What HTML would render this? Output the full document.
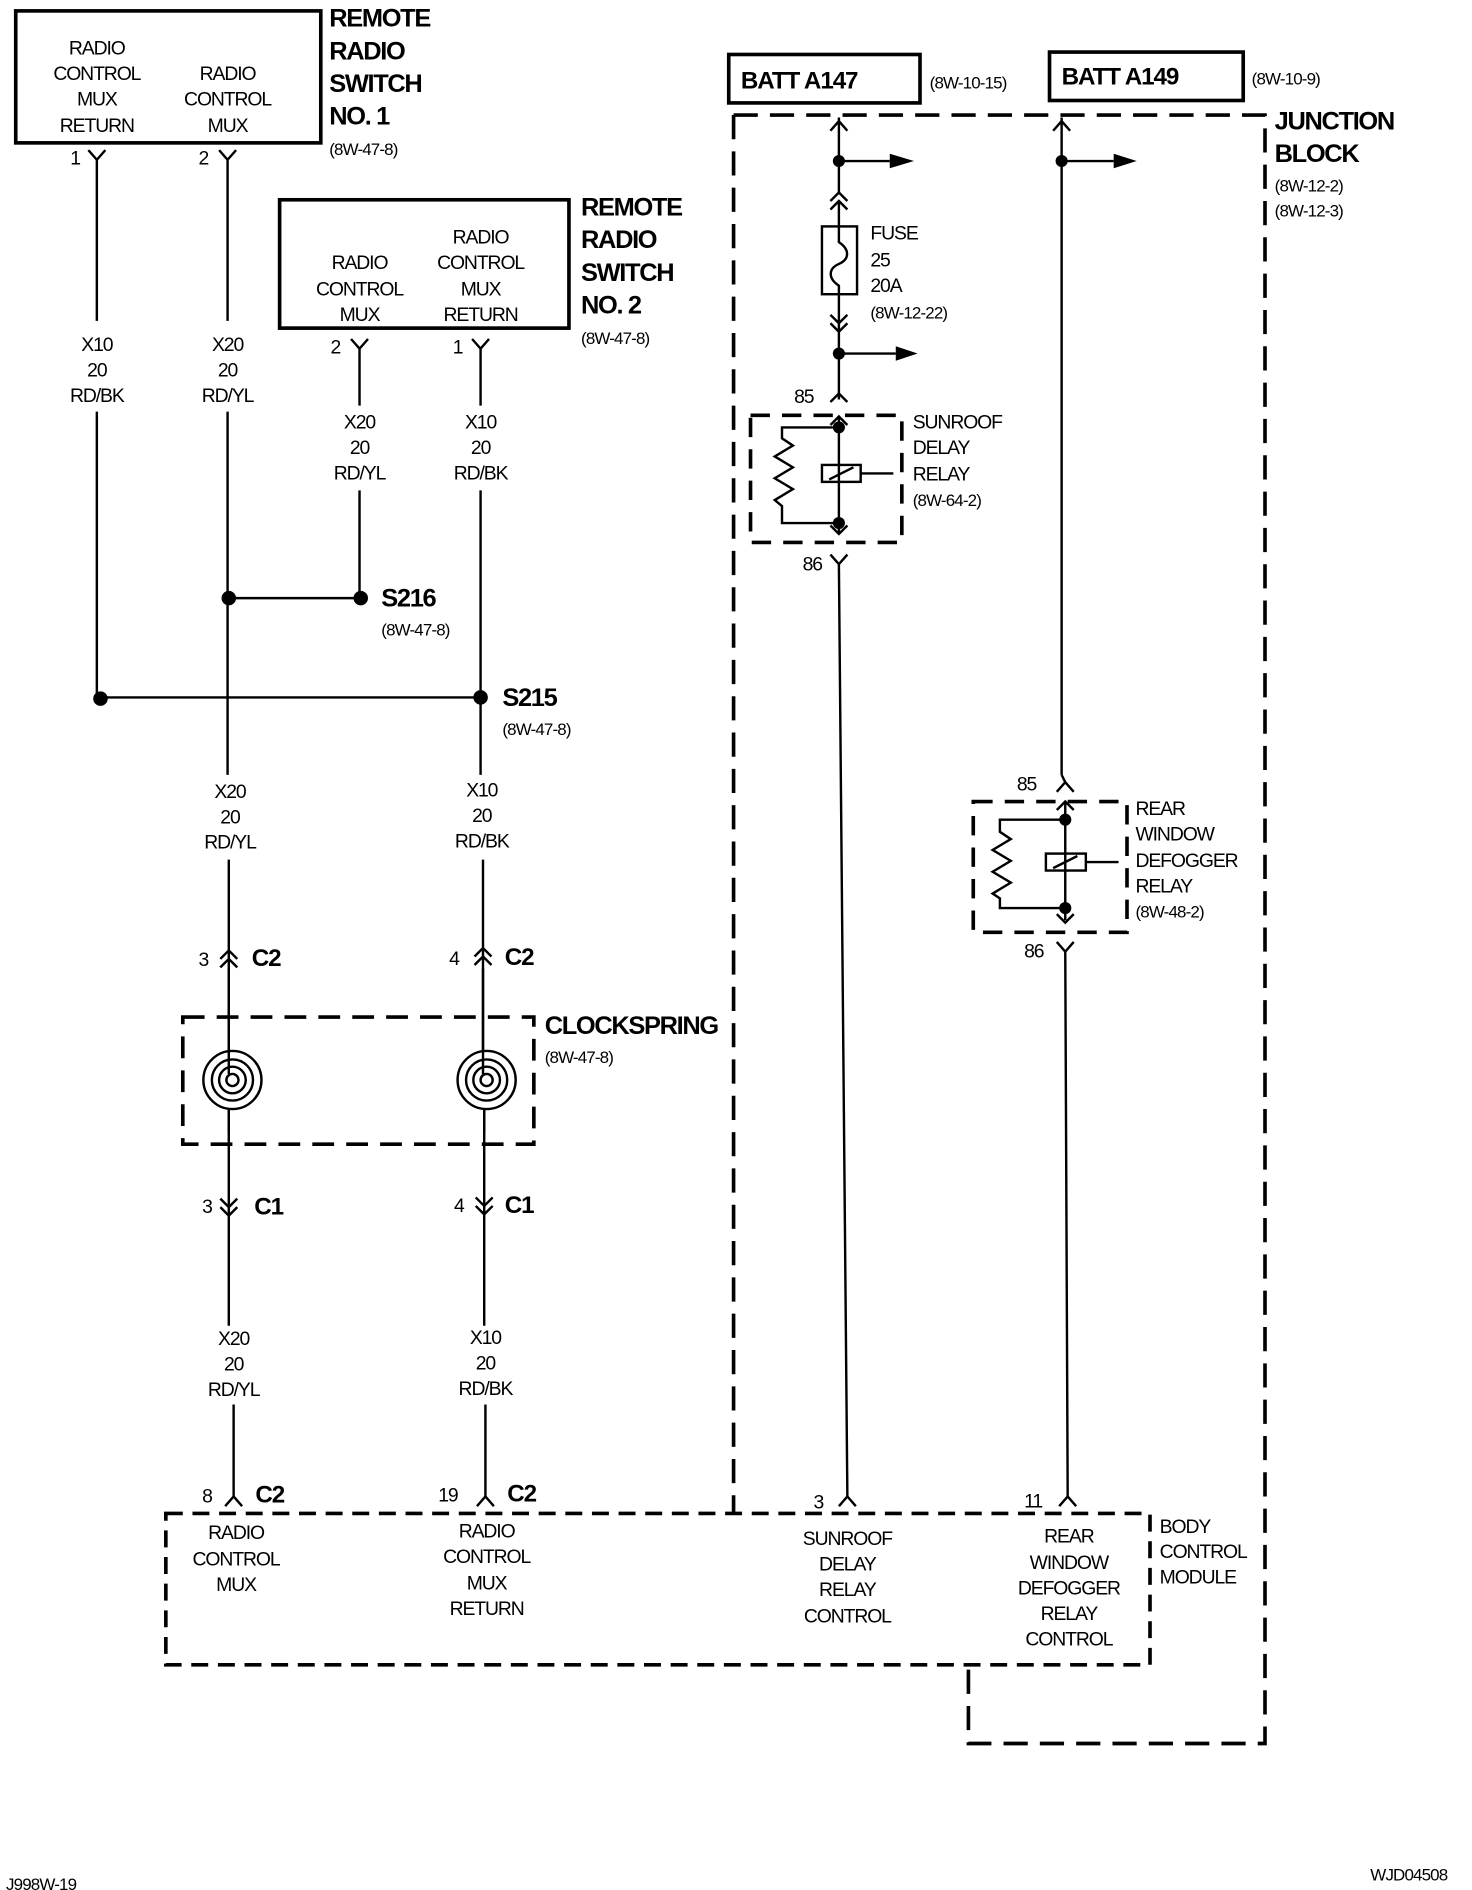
<!DOCTYPE html>
<html><head><meta charset="utf-8"><style>
html,body{margin:0;padding:0;background:#fff;}
svg{display:block;}
text{font-family:"Liberation Sans",sans-serif;fill:#000;}
.t{font-size:16px;text-anchor:middle;letter-spacing:-0.9px;}
.l{font-size:16px;letter-spacing:-0.9px;}
.s{font-size:14px;letter-spacing:-0.7px;}
.b{font-size:21px;font-weight:bold;letter-spacing:-1.1px;}
.bb{font-size:20px;font-weight:bold;letter-spacing:-0.9px;}
</style></head><body>
<svg width="1472" height="1890" viewBox="0 0 1216 1561" preserveAspectRatio="none" xmlns="http://www.w3.org/2000/svg">
<g fill="none" stroke="#000" stroke-width="2">
<rect x="13" y="9" width="252" height="109" stroke-width="3"/>
<rect x="231" y="165" width="239" height="106" stroke-width="3"/>
<rect x="602" y="45" width="158" height="40" stroke-width="3"/>
<rect x="867" y="43" width="160" height="40" stroke-width="3"/>

<path d="M73 124 L80 132 L87 124 M80 132 V265 M80 340 V577"/>
<path d="M181 124 L188 132 L195 124 M188 132 V265 M188 340 V640"/>
<path d="M290 280 L297 288 L304 280 M297 288 V335 M297 405 V494"/>
<path d="M390 280 L397 288 L404 280 M397 288 V335 M397 405 V640"/>
<path d="M189 494 H298 M83 576 H397"/>
<path d="M189 710 V892 M189 916 V1095 M399 710 V892 M400 916 V1095"/>
<path d="M182 792 L189 785 L196 792 M182 799 L189 792 L196 799"/>
<path d="M392 790 L399 783 L406 790 M392 797 L399 790 L406 797"/>
<path d="M182 990 L189 997 L196 990 M182 997 L189 1004 L196 997"/>
<path d="M393 989 L400 996 L407 989 M393 996 L400 1003 L407 996"/>
<path d="M193 1160 V1236 M401 1160 V1236"/>
<path d="M186 1244 L193 1236 L200 1244"/>
<path d="M394 1244 L401 1236 L408 1244"/>
<rect x="151" y="840" width="290" height="105" stroke-dasharray="18 10" stroke-width="3"/>
<g fill="#fff">
<circle cx="192" cy="892" r="24"/><circle cx="192" cy="892" r="17"/><circle cx="192" cy="892" r="11"/><circle cx="192" cy="892" r="5"/>
<circle cx="402" cy="892" r="24"/><circle cx="402" cy="892" r="17"/><circle cx="402" cy="892" r="11"/><circle cx="402" cy="892" r="5"/>
</g>
<path d="M189 800 V887 M399 800 V887 M189 916 V935 M400 916 V935"/>

<path d="M606 95 H1045 V1440 H800 V1375 M606 95 V1250" stroke-dasharray="20 10" stroke-width="3"/>
<path d="M137 1250 H950 V1375 H137 Z" stroke-dasharray="14 8" stroke-width="3"/>

<path d="M693 97 V160 M686 108 L693 100 L700 108"/>
<path d="M693 133 H735"/>
<path d="M686 166 L693 159 L700 166 M686 173 L693 166 L700 173 M693 166 V187"/>
<rect x="679" y="187" width="29" height="56"/>
<path d="M693 187 V200 C702 206 702 214 693 218 C684 222 684 230 693 236 V243"/>
<path d="M693 243 V290 M686 260 L693 267 L700 260 M686 267 L693 274 L700 267"/>
<path d="M693 292 H740"/>
<path d="M693 292 V330 M686 332 L693 325 L700 332"/>
<rect x="620" y="343" width="125" height="105" stroke-dasharray="16 10" stroke-width="3"/>
<path d="M686 351 L693 344 L700 351 M693 344 V440 M686 434 L693 441 L700 434"/>
<path d="M693 353 H646 V362 L655 368 L640 377 L655 386 L640 395 L655 404 L640 413 L646 418 V432 H693"/>
<rect x="679" y="384" width="32" height="14"/>
<path d="M685 396 L705 386 M711 391 H738"/>
<path d="M686 458 L693 466 L700 458 M693 466 L700 1236 M693 1244 L700 1236 L707 1244"/>
<path d="M877 97 V640 M870 108 L877 100 L884 108"/>
<path d="M877 133 H920"/>
<path d="M873 654 L880 646 L887 654 M877 640 L880 646"/>
<rect x="804" y="662" width="127" height="108" stroke-dasharray="16 10" stroke-width="3"/>
<path d="M873 669 L880 662 L887 669 M880 662 V760 M873 755 L880 762 L887 755"/>
<path d="M880 677 H826 V687 L835 693 L820 702 L835 711 L820 720 L835 729 L820 738 L826 742 V750 H880"/>
<rect x="864" y="705" width="33" height="14"/>
<path d="M870 717 L890 707 M897 712 H924"/>
<path d="M873 778 L880 786 L887 778 M880 786 L882 1236 M875 1244 L882 1236 L889 1244"/>
</g>
<g fill="#000">
<circle cx="189" cy="494" r="6"/><circle cx="298" cy="494" r="6"/>
<circle cx="83" cy="577" r="6"/><circle cx="397" cy="576" r="6"/>
<circle cx="693" cy="133" r="5"/><circle cx="693" cy="292" r="5"/>
<circle cx="877" cy="133" r="5"/>
<circle cx="693" cy="353" r="5"/><circle cx="693" cy="432" r="5"/>
<circle cx="880" cy="677" r="5"/><circle cx="880" cy="750" r="5"/>
<path d="M735 127 L755 133 L735 139 Z"/><path d="M740 286 L758 292 L740 298 Z"/>
<path d="M920 127 L939 133 L920 139 Z"/>
</g>

<text class="t" x="80" y="45">RADIO</text><text class="t" x="80" y="66">CONTROL</text><text class="t" x="80" y="87">MUX</text><text class="t" x="80" y="109">RETURN</text>
<text class="t" x="188" y="66">RADIO</text><text class="t" x="188" y="87">CONTROL</text><text class="t" x="188" y="109">MUX</text>
<text class="b" x="272" y="22">REMOTE</text><text class="b" x="272" y="49">RADIO</text><text class="b" x="272" y="76">SWITCH</text><text class="b" x="272" y="103">NO. 1</text>
<text class="s" x="272" y="128">(8W-47-8)</text>
<text class="l" x="58" y="136">1</text><text class="l" x="164" y="136">2</text>
<text class="t" x="297" y="222">RADIO</text><text class="t" x="297" y="244">CONTROL</text><text class="t" x="297" y="265">MUX</text>
<text class="t" x="397" y="201">RADIO</text><text class="t" x="397" y="222">CONTROL</text><text class="t" x="397" y="244">MUX</text><text class="t" x="397" y="265">RETURN</text>
<text class="b" x="480" y="178">REMOTE</text><text class="b" x="480" y="205">RADIO</text><text class="b" x="480" y="232">SWITCH</text><text class="b" x="480" y="259">NO. 2</text>
<text class="s" x="480" y="284">(8W-47-8)</text>
<text class="l" x="273" y="292">2</text><text class="l" x="374" y="292">1</text>
<text class="t" x="80" y="290">X10</text><text class="t" x="80" y="311">20</text><text class="t" x="80" y="332">RD/BK</text>
<text class="t" x="188" y="290">X20</text><text class="t" x="188" y="311">20</text><text class="t" x="188" y="332">RD/YL</text>
<text class="t" x="297" y="354">X20</text><text class="t" x="297" y="375">20</text><text class="t" x="297" y="396">RD/YL</text>
<text class="t" x="397" y="354">X10</text><text class="t" x="397" y="375">20</text><text class="t" x="397" y="396">RD/BK</text>
<text class="b" x="315" y="501">S216</text><text class="s" x="315" y="525">(8W-47-8)</text>
<text class="b" x="415" y="583">S215</text><text class="s" x="415" y="607">(8W-47-8)</text>
<text class="t" x="190" y="659">X20</text><text class="t" x="190" y="680">20</text><text class="t" x="190" y="701">RD/YL</text>
<text class="t" x="398" y="658">X10</text><text class="t" x="398" y="679">20</text><text class="t" x="398" y="700">RD/BK</text>
<text class="l" x="164" y="798">3</text><text class="bb" x="208" y="798">C2</text>
<text class="l" x="371" y="797">4</text><text class="bb" x="417" y="797">C2</text>
<text class="b" x="450" y="854">CLOCKSPRING</text><text class="s" x="450" y="878">(8W-47-8)</text>
<text class="l" x="167" y="1002">3</text><text class="bb" x="210" y="1003">C1</text>
<text class="l" x="375" y="1001">4</text><text class="bb" x="417" y="1002">C1</text>
<text class="t" x="193" y="1111">X20</text><text class="t" x="193" y="1132">20</text><text class="t" x="193" y="1153">RD/YL</text>
<text class="t" x="401" y="1110">X10</text><text class="t" x="401" y="1131">20</text><text class="t" x="401" y="1152">RD/BK</text>
<text class="l" x="167" y="1241">8</text><text class="bb" x="211" y="1241">C2</text>
<text class="l" x="362" y="1240">19</text><text class="bb" x="419" y="1240">C2</text>
<text class="t" x="195" y="1271">RADIO</text><text class="t" x="195" y="1293">CONTROL</text><text class="t" x="195" y="1314">MUX</text>
<text class="t" x="402" y="1270">RADIO</text><text class="t" x="402" y="1291">CONTROL</text><text class="t" x="402" y="1313">MUX</text><text class="t" x="402" y="1334">RETURN</text>
<text class="t" x="700" y="1276">SUNROOF</text><text class="t" x="700" y="1297">DELAY</text><text class="t" x="700" y="1318">RELAY</text><text class="t" x="700" y="1340">CONTROL</text>
<text class="t" x="883" y="1274">REAR</text><text class="t" x="883" y="1296">WINDOW</text><text class="t" x="883" y="1317">DEFOGGER</text><text class="t" x="883" y="1338">RELAY</text><text class="t" x="883" y="1359">CONTROL</text>
<text class="l" x="958" y="1266">BODY</text><text class="l" x="958" y="1287">CONTROL</text><text class="l" x="958" y="1308">MODULE</text>
<text class="l" x="672" y="1246">3</text><text class="l" x="846" y="1245">11</text>
<text class="bb" x="612" y="73">BATT A147</text><text class="s" x="768" y="73">(8W-10-15)</text>
<text class="bb" x="877" y="70">BATT A149</text><text class="s" x="1034" y="70">(8W-10-9)</text>
<text class="b" x="1053" y="107">JUNCTION</text><text class="b" x="1053" y="134">BLOCK</text>
<text class="s" x="1053" y="158">(8W-12-2)</text><text class="s" x="1053" y="179">(8W-12-3)</text>
<text class="l" x="719" y="198">FUSE</text><text class="l" x="719" y="220">25</text><text class="l" x="719" y="241">20A</text><text class="s" x="719" y="263">(8W-12-22)</text>
<text class="l" x="656" y="333">85</text>
<text class="l" x="754" y="354">SUNROOF</text><text class="l" x="754" y="375">DELAY</text><text class="l" x="754" y="397">RELAY</text><text class="s" x="754" y="418">(8W-64-2)</text>
<text class="l" x="663" y="471">86</text>
<text class="l" x="840" y="653">85</text>
<text class="l" x="938" y="673">REAR</text><text class="l" x="938" y="694">WINDOW</text><text class="l" x="938" y="716">DEFOGGER</text><text class="l" x="938" y="737">RELAY</text><text class="s" x="938" y="758">(8W-48-2)</text>
<text class="l" x="846" y="791">86</text>
<text class="s" x="5" y="1561">J998W-19</text>
<text class="s" x="1132" y="1553">WJD04508</text>
</svg>
</body></html>
